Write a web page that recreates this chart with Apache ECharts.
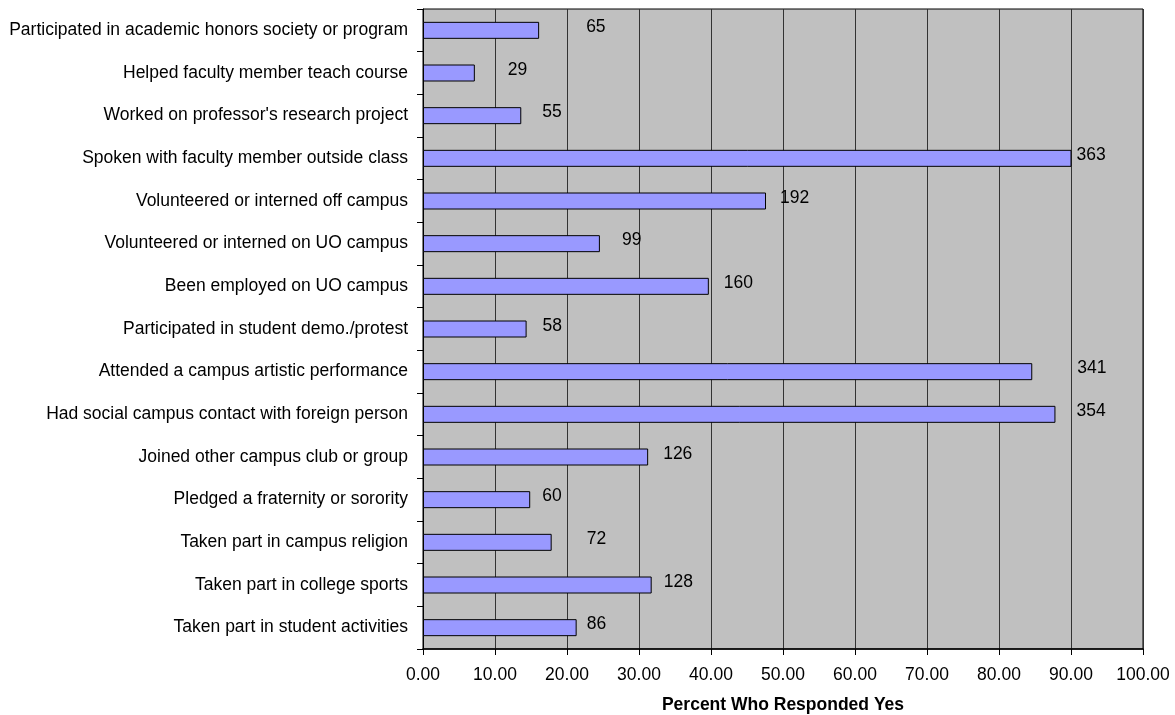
<!DOCTYPE html>
<html>
<head>
<meta charset="utf-8">
<script src="https://cdn.jsdelivr.net/npm/echarts@6/dist/echarts.min.js"></script>
<style>
  html, body { margin: 0; padding: 0; background: #ffffff; }
  #chart { width: 1175px; height: 715px; }
</style>
</head>
<body>
<div id="chart"></div>
<script>
// Student activities, listed top to bottom
const categories = [
  'Participated in academic honors society or program',
  'Helped faculty member teach course',
  "Worked on professor's research project",
  'Spoken with faculty member outside class',
  'Volunteered or interned off campus',
  'Volunteered or interned on UO campus',
  'Been employed on UO campus',
  'Participated in student demo./protest',
  'Attended a campus artistic performance',
  'Had social campus contact with foreign person',
  'Joined other campus club or group',
  'Pledged a fraternity or sorority',
  'Taken part in campus religion',
  'Taken part in college sports',
  'Taken part in student activities'
];

// Number of students answering "yes"
const counts = [65, 29, 55, 363, 192, 99, 160, 58, 341, 354, 126, 60, 72, 128, 86];

// Percent of respondents answering "yes"
const percents = [16.13, 7.20, 13.65, 90.07, 47.64, 24.57, 39.70, 14.39, 84.62, 87.84, 31.27, 14.89, 17.87, 31.76, 21.34];

// X axis tick labels (0.00 ... 100.00)
const xTicks = [0, 10, 20, 30, 40, 50, 60, 70, 80, 90, 100];

// Horizontal gap (px) between each bar end and its count label
const labelGap = [47, 33, 21, 5, 14, 22, 15, 16, 45, 21, 15, 12, 35, 12, 10];

const FONT = 'Liberation Sans, Arial, sans-serif';
const FS = 17.5;

const chart = echarts.init(document.getElementById('chart'), null, { renderer: 'canvas' });

const barData = percents.map((v, i) => ({
  value: v,
  label: { offset: [labelGap[i], -3] }
}));

chart.setOption({
  animation: false,
  backgroundColor: '#ffffff',
  grid: {
    left: 423, right: 32, top: 9, bottom: 66,
    outerBoundsMode: 'none',
    containLabel: false,
    show: true,
    backgroundColor: '#C0C0C0',
    borderColor: '#000000',
    borderWidth: 1
  },
  xAxis: {
    type: 'value',
    min: xTicks[0],
    max: xTicks[xTicks.length - 1],
    interval: 10,
    name: 'Percent Who Responded Yes',
    nameLocation: 'middle',
    nameGap: 47,
    nameTextStyle: { fontFamily: FONT, fontSize: FS, fontWeight: 'bold', color: '#000' },
    axisLine: { show: true, lineStyle: { color: '#000', width: 1.5 } },
    axisTick: { show: true, length: 6, lineStyle: { color: '#000' } },
    axisLabel: {
      fontFamily: FONT, fontSize: FS, color: '#000', margin: 17,
      formatter: v => v.toFixed(2)
    },
    splitLine: { show: true, lineStyle: { color: '#333333', width: 1 } }
  },
  yAxis: {
    type: 'category',
    data: categories,
    inverse: true,
    axisLine: { show: true, lineStyle: { color: '#000', width: 1 } },
    axisTick: { show: true, length: 6, lineStyle: { color: '#000' } },
    axisLabel: { fontFamily: FONT, fontSize: FS, color: '#000', margin: 15 },
    splitLine: { show: false }
  },
  series: [{
    type: 'bar',
    data: barData,
    barWidth: 17,
    itemStyle: { color: '#9999FF', borderColor: '#000000', borderWidth: 1 },
    label: {
      show: true,
      position: 'right',
      distance: 0,
      fontFamily: FONT,
      fontSize: FS,
      color: '#000',
      formatter: p => String(counts[p.dataIndex])
    }
  }]
});
</script>
</body>
</html>
